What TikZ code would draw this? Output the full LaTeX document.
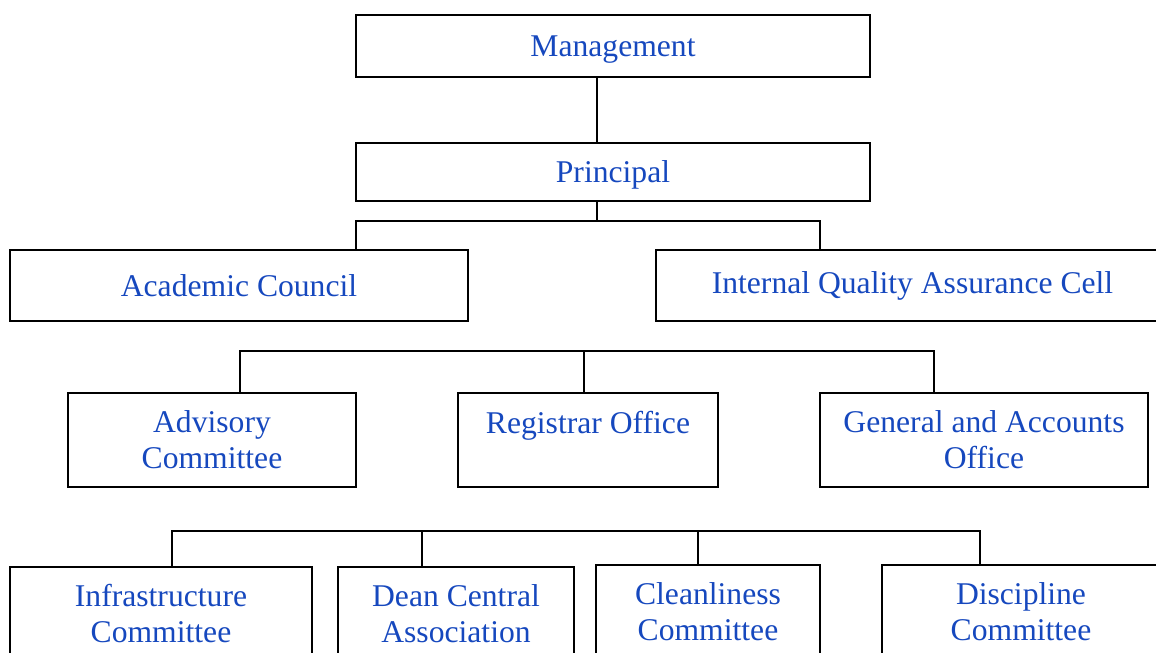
\documentclass[tikz,border=0pt]{standalone}
\usepackage{fontspec}
\setmainfont{Liberation Serif}
\definecolor{orgblue}{RGB}{22,72,190}

\begin{document}
\begin{tikzpicture}[
    orgbox/.style={draw,line width=1pt,inner sep=0pt,align=center,text=orgblue,
      font=\fontsize{18}{20.5}\selectfont},
    link/.style={line width=1pt}]
    \useasboundingbox (0,0) rectangle (23.12,13.06);
    % top
    \node[orgbox,minimum width=10.28cm,minimum height=1.24cm,text depth=0pt] (mgmt) at (12.26,12.14) {Management};
    \node[orgbox,minimum width=10.28cm,minimum height=1.16cm,text depth=0pt] (prin) at (12.26,9.62) {Principal};
    % second row
    \node[orgbox,minimum width=9.16cm,minimum height=1.42cm] (acad) at (4.78,7.35) {Academic Council};
    \node[orgbox,minimum width=10.26cm,minimum height=1.42cm] (iqac) at (18.25,7.35) {Internal Quality Assurance Cell};
    % offices
    \node[orgbox,minimum width=5.76cm,minimum height=1.88cm] (adv) at (4.24,4.26) {Advisory\\Committee};
    \node[orgbox,minimum width=5.2cm,minimum height=1.88cm] (reg) at (11.76,4.26) {Registrar Office\\~};
    \node[orgbox,minimum width=6.56cm,minimum height=1.88cm] (gen) at (19.68,4.26) {General and Accounts\\Office};
    % committees
    \node[orgbox,minimum width=6.04cm,minimum height=1.88cm] (infra) at (3.22,0.78) {Infrastructure\\Committee};
    \node[orgbox,minimum width=4.72cm,minimum height=1.88cm] (dean) at (9.12,0.78) {Dean Central\\Association};
    \node[orgbox,minimum width=4.48cm,minimum height=1.88cm] (clean) at (14.16,0.82) {Cleanliness\\Committee};
    \node[orgbox,minimum width=5.56cm,minimum height=1.88cm] (disc) at (20.42,0.82) {Discipline\\Committee};
    % links
    \draw[link] ([xshift=-3.2mm]mgmt.south) -- ([xshift=-3.2mm]prin.north);
    \draw[link] ([xshift=-3.2mm]prin.south) -- ++(0,-0.38) coordinate (bar1);
    \draw[link] ([xshift=2.34cm]acad.north) |- (bar1) -| ([xshift=-1.85cm]iqac.north);
    \coordinate (bar2) at (11.68,6.04);
    \draw[link] ([xshift=0.56cm]adv.north) |- (bar2) -| ([xshift=-1cm]gen.north);
    \draw[link] ([xshift=-0.08cm]reg.north) -- (bar2);
    \coordinate (bar3) at (11,2.44);
    \draw[link] ([xshift=0.22cm]infra.north) |- (bar3) -| ([xshift=-0.82cm]disc.north);
    \draw[link] ([xshift=-0.68cm]dean.north) -- ([xshift=-0.68cm]dean.north |- bar3);
    \draw[link] ([xshift=-0.2cm]clean.north) -- ([xshift=-0.2cm]clean.north |- bar3);
  \end{tikzpicture}
\end{document}
